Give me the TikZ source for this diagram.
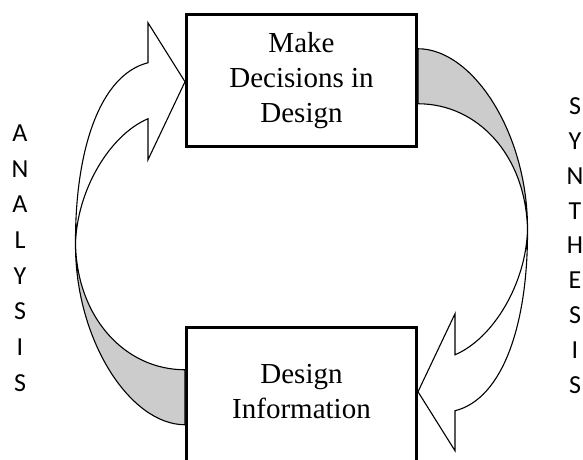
\documentclass[tikz,border=0pt]{standalone}
\usepackage{fontspec}
\setmainfont{Liberation Serif}
\newfontfamily\lettfont{Carlito}
\usetikzlibrary{positioning,calc}

\tikzset{
  box/.style={draw,line width=3pt,minimum width=230pt,minimum height=132pt,align=center,font=\fontsize{29}{35}\selectfont},
  letter/.style={font=\lettfont\fontsize{26}{26}\selectfont,inner sep=0pt},
  band/.style={line width=1.1pt,fill=black!20},
  bend arrow/.pic={
    \draw[band](-226,7) .. controls (-226.5,103) and (-171.5,188) .. (-116.5,188)
      -- (-116.5,133) .. controls (-176.5,133) and (-224.5,81) .. (-226,7) -- cycle;
    \draw[line width=1.1pt,fill=white](-226,7) .. controls (-226.5,-87) and (-201.5,-162) .. (-153.5,-174)
      -- (-153.5,-214) -- (-116.5,-155) -- (-153.5,-77) -- (-153.5,-118)
      .. controls (-191.5,-102) and (-224.5,-47) .. (-226,7) -- cycle;
  }
}

\begin{document}
\begin{tikzpicture}[x=1pt,y=-1pt]
\useasboundingbox (0,0) rectangle (583,459);
\clip (0,0) rectangle (583,459);
\node[box] (dec) at (301.5,80.25) {Make\strut\\Decisions in\strut\\Design\strut};
\node[box,minimum height=134pt,below=178pt of dec] (info) {Design\strut\\Information\strut};
\coordinate (mid) at ($(dec.south)!.5!(info.north)$);
\pic at (mid) {bend arrow};
\pic[rotate=180] at (mid) {bend arrow};
\foreach \ch [count=\i from 0] in {A,N,A,L,Y,S,I,S}
  \node[letter] (an\i) at (20,133+35.7*\i) {\ch};
\foreach \ch [count=\i from 0] in {S,Y,N,T,H,E,S,I,S}
  \node[letter] (sy\i) at (575,106+34.9*\i) {\ch};
\end{tikzpicture}
\end{document}
